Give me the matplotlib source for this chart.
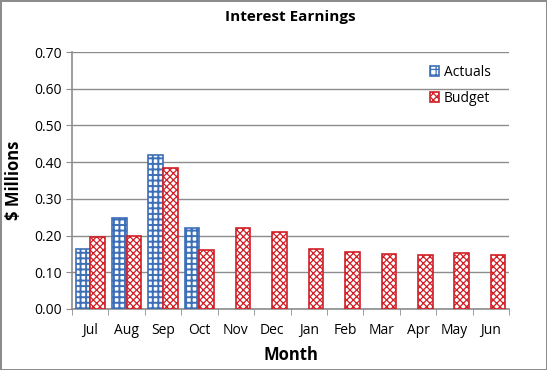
import numpy as np
import matplotlib.pyplot as plt
import matplotlib as mpl

months = ['Jul', 'Aug', 'Sep', 'Oct', 'Nov', 'Dec', 'Jan', 'Feb', 'Mar', 'Apr', 'May', 'Jun']
actuals = [0.164, 0.249, 0.420, 0.221]
budget = [0.197, 0.200, 0.383, 0.161, 0.221, 0.210, 0.163, 0.155, 0.150, 0.147, 0.152, 0.148]
yticks = [0.0, 0.1, 0.2, 0.3, 0.4, 0.5, 0.6, 0.7]

plt.rcParams['font.family'] = ['Open Sans', 'DejaVu Sans']

blue = '#3d6fb8'
red = '#d21f26'

fig = plt.figure(figsize=(5.47, 3.70), dpi=100)
fig.patch.set_edgecolor('#8c8c8c')
fig.patch.set_linewidth(2)
ax = fig.add_axes([72/547, 1-309/370, (509-72)/547, (309-52)/370])

x = np.arange(len(months))
w = 0.4
mpl.rcParams['hatch.linewidth'] = 1.4
ax.bar(x[:len(actuals)] - w/2, actuals, w, color='white', edgecolor=blue, hatch='+++',
       linewidth=1.2, label='Actuals', zorder=3)
mpl.rcParams['hatch.linewidth'] = 0.9
ax.bar(x + w/2, budget, w, color='white', edgecolor=red, hatch='xxxxx',
       linewidth=1.2, label='Budget', zorder=3)

ax.set_xlim(-0.5, len(months) - 0.5)
ax.set_ylim(0, 0.7)
ax.set_yticks(yticks)
ax.set_yticklabels(['%.2f' % v for v in yticks], fontsize=10)
ax.set_xticks(x)
ax.set_xticklabels(months, fontsize=10)
ax.set_xticks(np.arange(-0.5, len(months)), minor=True)
ax.tick_params(axis='x', which='major', length=0, pad=10)
ax.tick_params(axis='x', which='minor', length=4, color='#8c8c8c')
ax.tick_params(axis='y', length=4, color='#8c8c8c')
ax.grid(axis='y', color='#8c8c8c', linewidth=1, zorder=0)
for s in ['top', 'right']:
    ax.spines[s].set_visible(False)
for s in ['left', 'bottom']:
    ax.spines[s].set_color('#8c8c8c')
    ax.spines[s].set_linewidth(1.2)

ax.set_title('Interest Earnings', fontsize=11, fontweight='bold', pad=22)
ax.set_xlabel('Month', fontsize=12, fontweight='bold', labelpad=6)
ax.set_ylabel('$ Millions', fontsize=12, fontweight='bold', labelpad=8)

ax.legend(loc='upper left', bbox_to_anchor=(0.79, 1.0), frameon=False, fontsize=10,
          handlelength=0.7, handleheight=0.7, handletextpad=0.3, labelspacing=0.8)

fig.savefig('out.png', dpi=100, edgecolor=fig.get_edgecolor())
